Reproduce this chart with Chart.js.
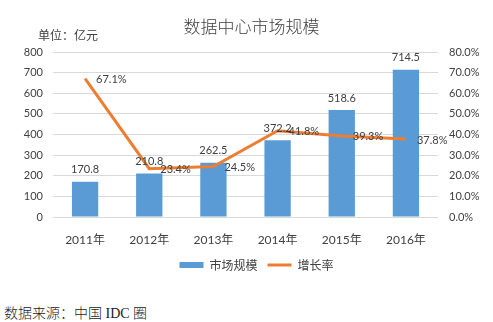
<!DOCTYPE html>
<html>
<head>
<meta charset="utf-8">
<script src="https://cdn.jsdelivr.net/npm/chart.js@4"></script>
<style>
  body { margin: 0; background: #fff; }
  #wrap { position: relative; width: 493px; height: 322px; }
  #chart-box { position: absolute; left: 0; top: 0; width: 493px; height: 290px; }
  #title { position: absolute; top: 13px; left: 0; width: 503px; text-align: center;
    font: 300 17px "Noto Sans CJK SC", sans-serif; color: #404040; }
  #unit { position: absolute; top: 26px; left: 38px; font: 12px "Noto Sans CJK SC", sans-serif; color: #404040; }
  #source { position: absolute; top: 302px; left: 4px; font: 300 14px "Liberation Serif", "Noto Sans CJK SC", serif; color: #222; }
</style>
</head>
<body>
<div id="wrap">
  <div id="chart-box"><canvas id="c"></canvas></div>
  <div id="title">数据中心市场规模</div>
  <div id="unit">单位：亿元</div>
  <div id="source">数据来源：中国 IDC 圈</div>
</div>
<script>
// chart values
const years = ['2011年', '2012年', '2013年', '2014年', '2015年', '2016年'];
const marketSize = [170.8, 210.8, 262.5, 372.2, 518.6, 714.5];
const growthRate = [67.1, 23.4, 24.5, 41.8, 39.3, 37.8];

const tickFont = { family: 'Lato, "Noto Sans CJK SC", sans-serif', size: 11 };

// draws the value labels next to bars and line points
const valueLabels = {
  id: 'valueLabels',
  afterLayout(chart) {
    // nudge legend a bit right like the original
    chart.legend.left += 10;
    chart.legend.right += 10;
  },
  afterDatasetsDraw(chart) {
    const ctx = chart.ctx;
    ctx.save();
    ctx.font = '11px Lato, sans-serif';
    ctx.fillStyle = '#404040';
    const barMeta = chart.getDatasetMeta(0);
    ctx.textAlign = 'center';
    ctx.textBaseline = 'middle';
    barMeta.data.forEach(function (bar, i) {
      ctx.fillText(marketSize[i].toFixed(1), bar.x, bar.y - 12);
    });
    const lineMeta = chart.getDatasetMeta(1);
    ctx.textAlign = 'left';
    lineMeta.data.forEach(function (pt, i) {
      ctx.fillText(growthRate[i].toFixed(1) + '%', pt.x + 11, pt.y + 1);
    });
    ctx.restore();
  }
};

new Chart(document.getElementById('c'), {
  data: {
    labels: years,
    datasets: [
      {
        type: 'bar',
        label: '市场规模',
        data: marketSize,
        backgroundColor: '#5B9BD5',
        yAxisID: 'y',
        barPercentage: 0.41,
        categoryPercentage: 1,
        order: 2
      },
      {
        type: 'line',
        label: '增长率',
        data: growthRate,
        borderColor: '#ED7D31',
        backgroundColor: '#ED7D31',
        borderWidth: 3,
        pointRadius: 0,
        tension: 0,
        yAxisID: 'y1',
        order: 1
      }
    ]
  },
  options: {
    responsive: true,
    maintainAspectRatio: false,
    animation: false,
    layout: { padding: { top: 52, left: 0, right: 0, bottom: 9 } },
    scales: {
      x: {
        grid: { display: false },
        border: { display: false },
        ticks: { font: { family: 'Lato, "Noto Sans CJK SC", sans-serif', size: 12 }, color: '#404040', padding: 8 },
        afterFit: function (scale) { scale.height = 32; }
      },
      y: {
        position: 'left',
        min: 0, max: 800,
        ticks: { stepSize: 100, font: tickFont, color: '#404040', padding: 10 },
        grid: { color: '#D9D9D9', drawTicks: false },
        border: { display: false },
        afterFit: function (scale) { scale.width = 53; }
      },
      y1: {
        position: 'right',
        min: 0, max: 80,
        ticks: {
          stepSize: 10, font: tickFont, color: '#404040', padding: 11,
          callback: function (v) { return v.toFixed(1) + '%'; }
        },
        grid: { display: false, drawTicks: false },
        border: { display: false },
        afterFit: function (scale) { scale.width = 55; }
      }
    },
    plugins: {
      legend: {
        position: 'bottom',
        labels: {
          usePointStyle: true,
          pointStyleWidth: 24,
          boxWidth: 24, boxHeight: 6,
          font: { family: '"Noto Sans CJK SC", sans-serif', size: 12 },
          color: '#404040',
          sort: function (a, b) { return a.datasetIndex - b.datasetIndex; },
          generateLabels: function (chart) {
            const items = Chart.defaults.plugins.legend.labels.generateLabels(chart);
            items.forEach(function (it) {
              if (it.datasetIndex === 0) {
                it.pointStyle = 'rect';
                it.lineWidth = 0;
              } else {
                it.pointStyle = 'line';
                it.lineWidth = 3;
              }
            });
            return items;
          }
        }
      },
      tooltip: { enabled: false }
    }
  },
  plugins: [valueLabels]
});
</script>
</body>
</html>
